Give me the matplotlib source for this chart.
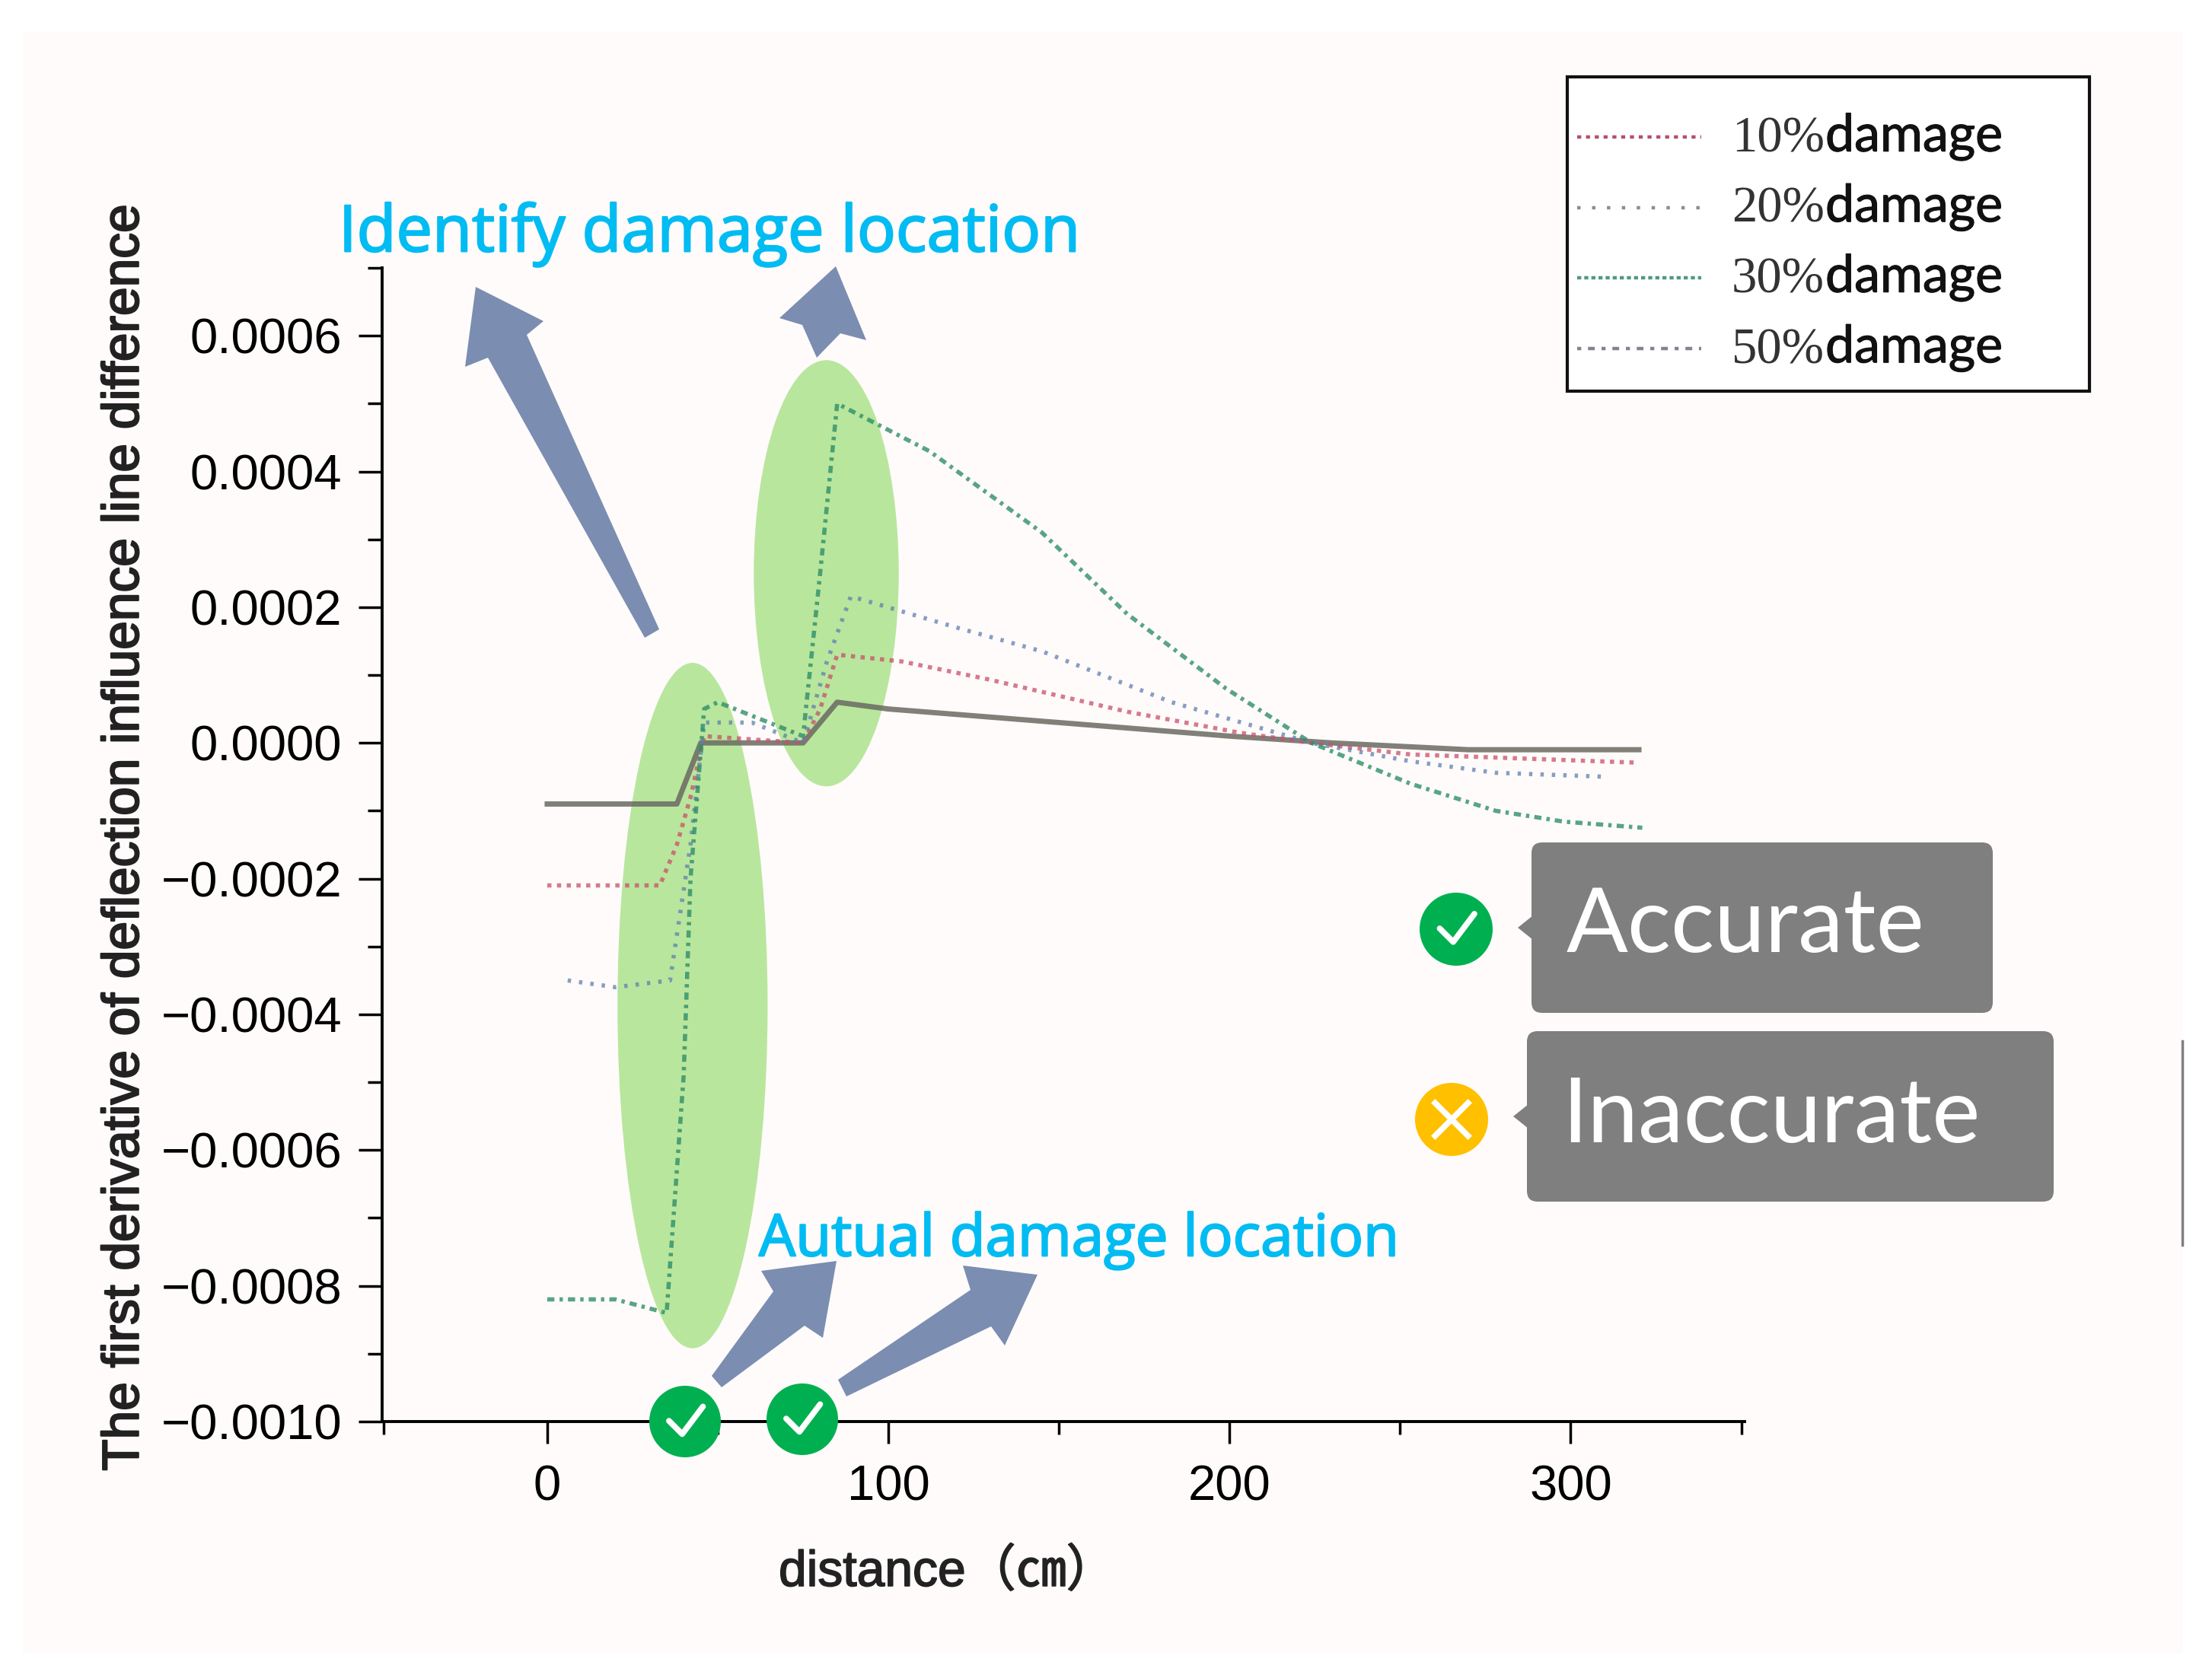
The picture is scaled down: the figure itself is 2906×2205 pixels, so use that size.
import matplotlib
matplotlib.use('Agg')
import matplotlib.pyplot as plt
import matplotlib.patheffects as pe
from matplotlib.patches import Ellipse, Rectangle, FancyBboxPatch, Circle, Polygon

# curves
gray_x = [0, 38, 45, 75, 85, 100, 150, 200, 230, 270, 320]
gray_y = [-0.00009, -0.00009, 0.0, 0.0, 0.00006, 0.00005, 0.00003, 0.00001, 0.0, -0.00001, -0.00001]
red_x = [0, 33, 38, 42, 46, 75, 80, 85, 104, 129, 170, 203, 224, 253, 319]
red_y = [-0.00021, -0.00021, -0.00015, -0.00008, 0.00001, 0.0, 0.00005, 0.00013, 0.00012, 0.000094, 0.000046, 0.000015, 0.0, -0.000017, -0.000029]
blue_x = [6, 20, 36, 42, 46, 60, 75, 82, 89, 120, 145, 183, 207, 224, 253, 278, 311]
blue_y = [-0.00035, -0.00036, -0.00035, -0.00015, 0.00003, 0.00003, 0.0, 0.00012, 0.000216, 0.00017, 0.000135, 0.00006, 0.000025, 0.0, -0.000027, -0.000044, -0.00005]
green_x = [0, 20, 35, 40, 42, 46, 50, 75, 80, 85, 112, 145, 170, 199, 224, 253, 278, 298, 321]
green_y = [-0.00082, -0.00082, -0.00084, -0.00049, -0.0002, 0.00005, 0.00006, 0.00001, 0.00025, 0.0005, 0.00043, 0.00031, 0.00019, 0.00008, 0.0, -0.00006, -0.0001, -0.000116, -0.000125]

x_ticks = [0, 100, 200, 300]
x_minor = [-48, 50, 150, 250, 350]
y_ticks = [-0.001, -0.0008, -0.0006, -0.0004, -0.0002, 0.0, 0.0002, 0.0004, 0.0006]
y_minor = [-0.0009, -0.0007, -0.0005, -0.0003, -0.0001, 0.0001, 0.0003, 0.0005, 0.0007]
y_labels = ['\u22120.0010', '\u22120.0008', '\u22120.0006', '\u22120.0004', '\u22120.0002', '0.0000', '0.0002', '0.0004', '0.0006']
legend_labels = ['10%', '20%', '30%', '50%']

W, H = 2906, 2205
plt.rcParams['font.family'] = ['Liberation Sans', 'Noto Sans CJK SC', 'DejaVu Sans']
fig = plt.figure(figsize=(W / 100, H / 100), dpi=100, facecolor='white')
fig.add_artist(Rectangle((30 / W, 1 - 2172 / H), 2838 / W, 2130 / H, transform=fig.transFigure,
                         fc='#fffbfb', ec='none', zorder=-5))

def thick(t, lw=1.2, c='#222222'):
    t.set_path_effects([pe.withStroke(linewidth=lw, foreground=c)])

# main axes, placed by pixels
L, R, T, B = 502, 2292, 352, 1868
ax = fig.add_axes([L / W, 1 - B / H, (R - L) / W, (B - T) / H])
ax.patch.set_visible(False)
ax.set_xlim(-48.4, 351)
ax.set_ylim(-0.001, 0.0007)
for s in ['top', 'right']:
    ax.spines[s].set_visible(False)
for s in ['left', 'bottom']:
    ax.spines[s].set_linewidth(2.8)
ax.set_xticks(x_ticks)
ax.set_xticks(x_minor, minor=True)
ax.set_yticks(y_ticks)
ax.set_yticklabels(y_labels)
ax.set_yticks(y_minor, minor=True)
ax.tick_params(axis='both', which='major', labelsize=47, width=2.5, length=22, pad=16)
ax.tick_params(axis='y', which='minor', width=2.5, length=14)
ax.tick_params(axis='x', which='minor', width=2.5, length=12)
ax.tick_params(axis='x', which='major', length=21, pad=20)

ax.add_patch(Ellipse((42.6, -0.000387), 44, 0.00101, fc='#b9e69d', ec='none', zorder=1, clip_on=False))
ax.add_patch(Ellipse((81.8, 0.00025), 42.5, 0.000628, fc='#b9e69d', ec='none', zorder=1))

ax.plot(gray_x, gray_y, c='#6a6a62', lw=5, alpha=0.85, zorder=3)
ax.plot(red_x, red_y, c='#c8506a', lw=4, ls=(0, (1, 1.3)), alpha=0.75, zorder=4)
ax.plot(blue_x, blue_y, c='#5f7fb0', lw=4, ls=(0, (0.8, 1.9)), alpha=0.75, zorder=4)
ax.plot(green_x, green_y, c='#2f8f68', lw=4, ls=(0, (1.7, 1.2, 0.8, 1.2)), alpha=0.8, zorder=5)

xl = ax.set_xlabel('distance\uff08\u339d\uff09', fontsize=47.5, color='#222222', va='center')
ax.xaxis.set_label_coords(0.415, -0.131)
thick(xl)
yl = ax.set_ylabel('The first derivative of deflection influence line difference', fontsize=48.7,
                   color='#222222', va='center')
ax.yaxis.set_label_coords(-0.189, 0.506)
thick(yl, 1.6)

# overlay in picture pixels for the callouts
ov = fig.add_axes([0, 0, 1, 1])
ov.set_xlim(0, W)
ov.set_ylim(H, 0)
ov.axis('off')

arrow_c = '#7b8db0'
arrow_shapes = [
    [(625, 377), (714, 422), (692, 440), (866, 827), (847, 838), (641, 470), (611, 482)],
    [(1098, 350), (1138, 447), (1104, 438), (1073, 470), (1054, 427), (1024, 418)],
    [(1099, 1657), (1081, 1758), (1057, 1742), (948, 1823), (935, 1808), (1016, 1697), (1000, 1670)],
    [(1363, 1675), (1320, 1768), (1302, 1743), (1112, 1835), (1101, 1813), (1275, 1695), (1265, 1663)],
]
for pts in arrow_shapes:
    ov.add_patch(Polygon(pts, fc=arrow_c, ec='none'))

t1 = ov.text(445, 308, 'Identify damage location', color='#00bcf2', fontsize=61, va='center', family='Open Sans')
t2 = ov.text(997, 1630, 'Autual damage location', color='#00bcf2', fontsize=55, va='center', family='Open Sans')
thick(t1, 1.6, '#00bcf2')
thick(t2, 1.6, '#00bcf2')

# legend
ov.add_patch(Rectangle((2059, 101), 686, 413, fc='white', ec='#111111', lw=3, zorder=3))
leg_styles = [('#b5506a', (0, (1.2, 1.4))), ('#7f948f', (0, (1, 3.4))),
              ('#4f9a80', (0, (1.2, 0.9))), ('#808590', (0, (1.2, 2, 2, 2)))]
for i, (lab, (c, ls)) in enumerate(zip(legend_labels, leg_styles)):
    yy = 180 + i * 92.5
    ov.plot([2072, 2235], [yy, yy], c=c, ls=ls, lw=3.2, zorder=4)
    ov.text(2275, yy + 3, lab, fontsize=48, family='Liberation Serif', va='center', color='#333333', zorder=4)
    d = ov.text(2398, yy, 'damage', fontsize=49, family='Lato', va='center', color='#111111', zorder=4)
    thick(d, 0.8, '#111111')

# grey tags
for x, y, w, h, txt, ty in [(2012, 1107, 606, 224, 'Accurate', 1218), (2006, 1355, 692, 224, 'Inaccurate', 1467)]:
    ov.add_patch(FancyBboxPatch((x + 12, y + 12), w - 24, h - 24, boxstyle='round,pad=12,rounding_size=14',
                                fc='#7f7f7f', ec='none'))
    ov.add_patch(Polygon([(x + 2, y + h / 2 - 16), (x - 18, y + h / 2), (x + 2, y + h / 2 + 16)], fc='#7f7f7f', ec='none'))
    ov.text(x + 46, ty, txt, color='white', fontsize=86, va='center', family='Lato')

# status badges
for cx, cy, r in [(900, 1868, 47), (1054, 1865, 47), (1913, 1221, 48)]:
    ov.add_patch(Circle((cx, cy), r, fc='#00b050', ec='none', zorder=6))
    ov.plot([cx - r * 0.45, cx - r * 0.08, cx + r * 0.5], [cy - r * 0.02, cy + r * 0.35, cy - r * 0.42],
            c='white', lw=5.5, zorder=7, solid_capstyle='round', solid_joinstyle='round')
cx, cy, r = 1907, 1471, 48
ov.add_patch(Circle((cx, cy), r, fc='#ffc000', ec='none', zorder=6))
ov.plot([cx - r * 0.45, cx + r * 0.45], [cy - r * 0.45, cy + r * 0.45], c='white', lw=5.5, zorder=7)
ov.plot([cx - r * 0.45, cx + r * 0.45], [cy + r * 0.45, cy - r * 0.45], c='white', lw=5.5, zorder=7)

# stray edge line at the right of the picture
ov.plot([2867, 2867], [1368, 1636], c='#808080', lw=2.5)

fig.savefig('out.png', dpi=100)
